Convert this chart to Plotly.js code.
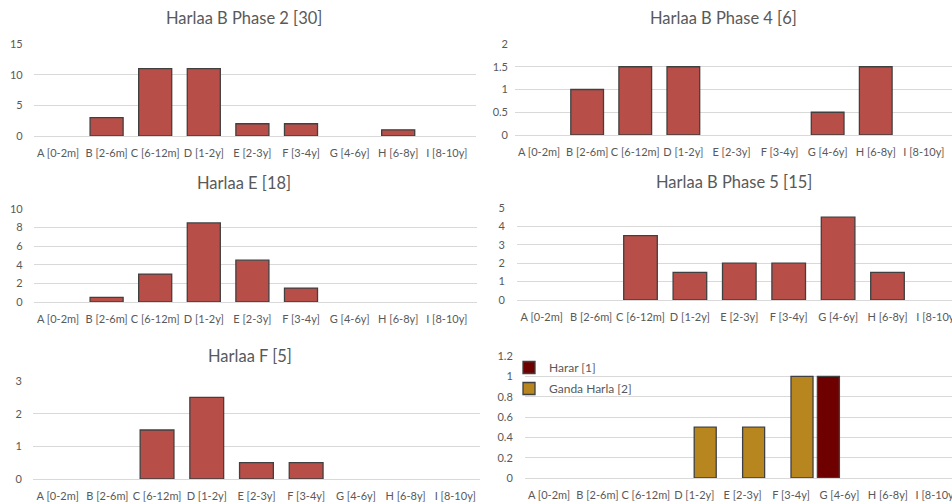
<!DOCTYPE html>
<html><head><meta charset="utf-8">
<script src="https://cdn.plot.ly/plotly-3.0.1.min.js"></script>
<style>html,body{margin:0;padding:0;background:#fff}#chart{width:952px;height:504px}</style>
</head><body><div id="chart"></div><script>
const categories = ['A [0-2m]', 'B [2-6m]', 'C [6-12m]', 'D [1-2y]', 'E [2-3y]', 'F [3-4y]', 'G [4-6y]', 'H [6-8y]', 'I [8-10y]'];
const titles = ['Harlaa B Phase 2 [30]', 'Harlaa B Phase 4 [6]', 'Harlaa E [18]', 'Harlaa B Phase 5 [15]', 'Harlaa F [5]'];
const phase2 = [0, 3, 11, 11, 2, 2, 0, 1, 0];
const phase4 = [0, 1, 1.5, 1.5, 0, 0, 0.5, 1.5, 0];
const harlaaE = [0, 0.5, 3, 8.5, 4.5, 1.5, 0, 0, 0];
const phase5 = [0, 0, 3.5, 1.5, 2, 2, 4.5, 1.5, 0];
const harlaaF = [0, 0, 1.5, 2.5, 0.5, 0.5, 0, 0, 0];
const seriesNames = ['Harar [1]', 'Ganda Harla [2]'];
const harar = [0, 0, 0, 0, 0, 0, 1, 0, 0];
const gandaHarla = [0, 0, 0, 0.5, 0.5, 1, 0, 0, 0];

const W = 952, H = 504;
const FONT = 'Lato, "Open Sans", sans-serif';
const TXT = '#595959';
const GRID = '#D9D9D9';
const blank = v => v.map(x => x === 0 ? null : x);

// panel geometry in px: left, right, top, bottom, category spacing, ymax, dtick, title center x, title y
const panels = [
  {l: 33.7, r: 476, t: 44, b: 136, sp: 48.6, ymax: 15, dt: 5, tx: 244, ty: 18, std: 10},
  {l: 515, r: 952, t: 44, b: 135, sp: 48.1, ymax: 2, dt: 0.5, tx: 723, ty: 18, std: 6},
  {l: 33.7, r: 477, t: 209, b: 302, sp: 48.6, ymax: 10, dt: 2, tx: 244, ty: 183, std: 10},
  {l: 517, r: 952, t: 208, b: 300, sp: 49.4, ymax: 5, dt: 1, tx: 734, ty: 182, std: 11},
  {l: 32.8, r: 480, t: 381, b: 479, sp: 49.7, ymax: 3, dt: 1, tx: 250, ty: 356, std: 10},
  {l: 524.8, r: 952, t: 356, b: 478, sp: 48.4, ymax: 1.2, dt: 0.2, std: 11}
];

const layout = {
  width: W, height: H,
  margin: {l: 0, r: 0, t: 0, b: 0},
  paper_bgcolor: '#fff', plot_bgcolor: '#fff',
  font: {family: FONT, color: TXT, size: 11},
  barmode: 'group', bargap: 0.32,
  showlegend: true,
  legend: {x: 509 / W, y: 1 - 353 / H, xanchor: 'left', yanchor: 'top',
           bgcolor: 'rgba(0,0,0,0)', font: {family: FONT, size: 12, color: TXT},
           traceorder: 'grouped', tracegroupgap: 2, itemwidth: 30},
  annotations: [],
  hovermode: false
};

panels.forEach((p, i) => {
  const k = i === 0 ? '' : String(i + 1);
  layout['xaxis' + k] = {
    domain: [p.l / W, p.r / W],
    range: [-0.5, -0.5 + (p.r - p.l) / p.sp],
    anchor: 'y' + k,
    type: 'category',
    showgrid: false, zeroline: false, showline: false, ticks: '',
    tickfont: {family: FONT, size: 11, color: TXT},
    ticklabelstandoff: 9,
    ticklabeloverflow: 'allow',
    fixedrange: true
  };
  layout['yaxis' + k] = {
    domain: [1 - p.b / H, 1 - p.t / H],
    range: [0, p.ymax],
    anchor: 'x' + k,
    dtick: p.dt, tick0: 0,
    showgrid: true, gridcolor: GRID, gridwidth: 1,
    zeroline: true, zerolinecolor: GRID, zerolinewidth: 1,
    showline: false, ticks: '',
    tickfont: {family: FONT, size: 11, color: TXT},
    ticklabelstandoff: p.std,
    fixedrange: true
  };
  if (titles[i]) {
    layout.annotations.push({
      text: titles[i], xref: 'paper', yref: 'paper',
      x: p.tx / W, y: 1 - p.ty / H, xanchor: 'center', yanchor: 'middle',
      showarrow: false, font: {family: FONT, size: 16.5, color: TXT}
    });
  }
});

const RED = '#B74F48';
const OUT = {color: '#404040', width: 1.3};
const single = [phase2, phase4, harlaaE, phase5, harlaaF];
const data = single.map((vals, i) => {
  const k = i === 0 ? '' : String(i + 1);
  return {
    type: 'bar', x: categories, y: blank(vals),
    xaxis: 'x' + k, yaxis: 'y' + k,
    marker: {color: RED, line: OUT},
    showlegend: false
  };
});
data.push({
  type: 'bar', name: seriesNames[0], legendgroup: 'g1', x: categories, y: blank(harar),
  xaxis: 'x6', yaxis: 'y6', width: 0.455, offset: -0.455,
  marker: {color: '#6E0000', line: OUT}, showlegend: true
});
data.push({
  type: 'bar', name: seriesNames[1], legendgroup: 'g2', x: categories, y: blank(gandaHarla),
  xaxis: 'x6', yaxis: 'y6', width: 0.455, offset: 0,
  marker: {color: '#B8861E', line: OUT}, showlegend: true
});

Plotly.newPlot('chart', data, layout, {staticPlot: true, displayModeBar: false});
</script></body></html>
